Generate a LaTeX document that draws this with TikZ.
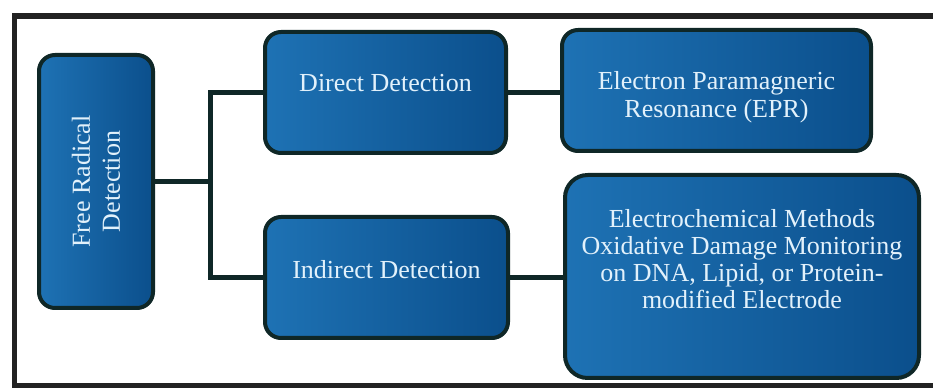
\documentclass[tikz,border=0pt]{standalone}
\usepackage{fontspec}
\setmainfont{Liberation Serif}
\definecolor{boxL}{HTML}{1E72B4}
\definecolor{boxR}{HTML}{0B4F8C}
\definecolor{edgec}{HTML}{0F2727}
\definecolor{txtc}{HTML}{E2F1FB}
\definecolor{framec}{HTML}{222222}
\begin{document}
\begin{tikzpicture}[x=0.75pt,y=-0.75pt,
  box/.style={rounded corners=12pt, draw=edgec, line width=3pt,
    left color=boxL, right color=boxR, inner sep=0pt},
  boxtext/.style={text=txtc, align=center, inner sep=0pt,
    font=\fontsize{19.5}{21}\selectfont},
  conn/.style={draw=edgec, line width=3.75pt}]
\useasboundingbox (0,0) rectangle (933,388);
\clip (0,0) rectangle (933,388);
% frame
\draw[framec, line width=4.2pt] (940,16) -- (14.5,16) -- (14.5,386) -- (940,386);
% boxes
\node[box, minimum width=85.5pt, minimum height=189.75pt] (fr) at (96,181.5) {};
\node[box, minimum width=180.75pt, minimum height=90.75pt] (dd) at (385.5,92.5) {};
\node[box, minimum width=231.75pt, minimum height=90.75pt] (epr) at (716.5,90.5) {};
\node[box, minimum width=182.25pt, minimum height=90.75pt] (ind) at (386.5,277.5) {};
\node[box, rounded corners=17pt, minimum width=265.5pt, minimum height=152.25pt] (ec) at (742,276.5) {};
% texts
\node[boxtext, rotate=90, font=\fontsize{19.5}{22.5}\selectfont] (frt) at (fr.center) {Free Radical\\Detection};
\node[boxtext] (ddt) at ([yshift=7pt]dd.center) {Direct Detection};
\node[boxtext, font=\fontsize{19.5}{21}\selectfont] (eprt) at ([yshift=-5pt]epr.center) {Electron Paramagneric\\Resonance (EPR)};
\node[boxtext] (indt) at ([yshift=6pt]ind.center) {Indirect Detection};
\node[boxtext, font=\fontsize{19.5}{20.3}\selectfont] (ect) at ([yshift=13pt]ec.center) {Electrochemical Methods\\Oxidative Damage Monitoring\\on DNA, Lipid, or Protein-\\modified Electrode};
% connectors
\draw[conn] (fr.east) -- ++(55,0) coordinate (j);
\draw[conn] (dd.west) -| (j) |- (ind.west);
\draw[conn] (dd.east) -- (dd.east -| epr.west);
\draw[conn] (ind.east) -- (ind.east -| ec.west);
\end{tikzpicture}
\end{document}
